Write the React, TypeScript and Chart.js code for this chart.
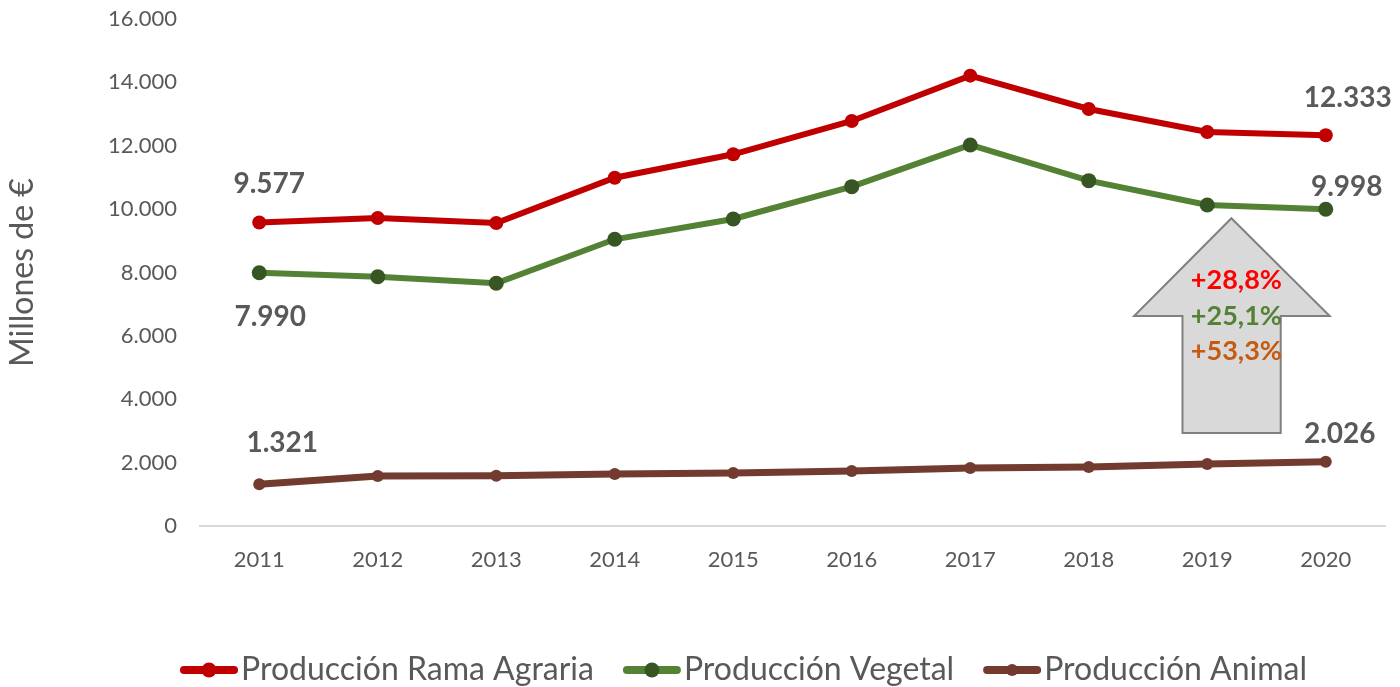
import React, { useEffect, useRef } from 'react';
import { Chart, registerables } from 'chart.js';

Chart.register(...registerables);

const years = ['2011', '2012', '2013', '2014', '2015', '2016', '2017', '2018', '2019', '2020'];
const ramaAgraria = [9577, 9720, 9563, 10990, 11731, 12782, 14212, 13161, 12435, 12333];
const vegetal = [7990, 7868, 7659, 9048, 9689, 10709, 12024, 10898, 10131, 9998];
const animal = [1321, 1578, 1585, 1641, 1673, 1736, 1830, 1862, 1957, 2026];
const seriesNames = ['Producción Rama Agraria', 'Producción Vegetal', 'Producción Animal'];
const changeLabels = ['+28,8%', '+25,1%', '+53,3%'];
const yMin = 0;
const yMax = 16000;
const yStep = 2000;
const yTitle = 'Millones de €';

const lineColors = ['#c00000', '#548235', '#733a2f'];
const markerColors = ['#c00000', '#375623', '#733a2f'];
const changeColors = ['#ff0000', '#548235', '#c55a11'];
const FONT = 'Lato, "Open Sans", sans-serif';
const TEXT = '#595959';

// arrow annotation geometry (category index, value)
const arrowGeom = {
  tip: [8.204, 9711],
  headL: [7.383, 6627],
  headR: [9.033, 6627],
  shaftL: 7.791,
  shaftR: 8.62,
  bottom: 2935,
};
const changeTextPos = { x: 8.246, y: [7764, 6606, 5501] };

// data label offsets (px) for first / last points of each series
const firstOffsets = [[10, -39], [11, 44], [23, -41]];
const lastOffsets = [[22, -37], [21, -22], [14, -28]];

function fmt(n: number): string {
  const s = Math.round(n).toString();
  return s.replace(/\B(?=(\d{3})+(?!\d))/g, '.');
}

export default function App() {
  const ref = useRef<HTMLCanvasElement | null>(null);

  useEffect(() => {
    document.body.style.margin = '0';
    const canvas = ref.current;
    if (!canvas) return;
    const series = [ramaAgraria, vegetal, animal];
    const radii = [7, 7.5, 6];

    const annotations = {
      id: 'annotations',
      beforeDatasetsDraw(chart: any) {
        const { ctx, scales } = chart;
        const x = scales.x;
        const y = scales.y;
        const px = (i: number) => x.getPixelForValue(i);
        const py = (v: number) => y.getPixelForValue(v);
        ctx.save();
        ctx.beginPath();
        ctx.moveTo(px(arrowGeom.tip[0]), py(arrowGeom.tip[1]));
        ctx.lineTo(px(arrowGeom.headR[0]), py(arrowGeom.headR[1]));
        ctx.lineTo(px(arrowGeom.shaftR), py(arrowGeom.headR[1]));
        ctx.lineTo(px(arrowGeom.shaftR), py(arrowGeom.bottom));
        ctx.lineTo(px(arrowGeom.shaftL), py(arrowGeom.bottom));
        ctx.lineTo(px(arrowGeom.shaftL), py(arrowGeom.headL[1]));
        ctx.lineTo(px(arrowGeom.headL[0]), py(arrowGeom.headL[1]));
        ctx.closePath();
        ctx.fillStyle = '#d9d9d9';
        ctx.fill();
        ctx.strokeStyle = '#808080';
        ctx.lineWidth = 2;
        ctx.stroke();
        ctx.font = `bold 27px ${FONT}`;
        ctx.textAlign = 'center';
        ctx.textBaseline = 'middle';
        changeLabels.forEach((t, i) => {
          ctx.fillStyle = changeColors[i];
          ctx.fillText(t, px(changeTextPos.x), py(changeTextPos.y[i]));
        });
        ctx.restore();
      },
      afterDatasetsDraw(chart: any) {
        const { ctx, scales } = chart;
        const x = scales.x;
        const y = scales.y;
        ctx.save();
        ctx.font = `bold 28px ${FONT}`;
        ctx.fillStyle = TEXT;
        ctx.textAlign = 'center';
        ctx.textBaseline = 'middle';
        series.forEach((d, s) => {
          const last = d.length - 1;
          ctx.fillText(fmt(d[0]), x.getPixelForValue(0) + firstOffsets[s][0], y.getPixelForValue(d[0]) + firstOffsets[s][1]);
          ctx.fillText(fmt(d[last]), x.getPixelForValue(last) + lastOffsets[s][0], y.getPixelForValue(d[last]) + lastOffsets[s][1]);
        });
        ctx.restore();
      },
      afterDraw(chart: any) {
        const { ctx } = chart;
        ctx.save();
        ctx.font = `32px ${FONT}`;
        ctx.textBaseline = 'middle';
        ctx.textAlign = 'left';
        const markW = 58;
        const gapT = 3;
        const gapItem = 29;
        const widths = seriesNames.map((n) => ctx.measureText(n).width);
        const total = widths.reduce((a, b) => a + b, 0) + 3 * (markW + gapT) + 2 * gapItem;
        let cx = 743.5 - total / 2;
        const cy = 670;
        seriesNames.forEach((n, i) => {
          ctx.strokeStyle = lineColors[i];
          ctx.lineWidth = 8;
          ctx.lineCap = 'round';
          ctx.beginPath();
          ctx.moveTo(cx + 4, cy);
          ctx.lineTo(cx + markW - 4, cy);
          ctx.stroke();
          ctx.fillStyle = markerColors[i];
          ctx.beginPath();
          ctx.arc(cx + markW / 2, cy, i === 2 ? 6 : 7.5, 0, Math.PI * 2);
          ctx.fill();
          ctx.fillStyle = TEXT;
          ctx.fillText(n, cx + markW + gapT, cy);
          cx += markW + gapT + widths[i] + gapItem;
        });
        ctx.restore();
      },
    };

    const chart = new Chart(canvas, {
      type: 'line',
      data: {
        labels: years,
        datasets: series.map((d, i) => ({
          label: seriesNames[i],
          data: d,
          borderColor: lineColors[i],
          backgroundColor: markerColors[i],
          pointBackgroundColor: markerColors[i],
          pointBorderColor: markerColors[i],
          pointBorderWidth: 0,
          pointRadius: radii[i],
          borderWidth: i === 2 ? 7 : 6,
          tension: 0,
          fill: false,
        })),
      },
      options: {
        animation: false,
        responsive: false,
        devicePixelRatio: 1,
        layout: { padding: { top: 19, right: 15, bottom: 0, left: 0 } },
        plugins: {
          legend: { display: false },
          tooltip: { enabled: false },
        },
        scales: {
          x: {
            offset: true,
            grid: { display: false, drawTicks: false },
            border: { display: true, color: '#d9d9d9', width: 2 },
            ticks: { color: TEXT, font: { family: FONT, size: 22 }, padding: 21 },
            afterFit: (s: any) => { s.height = 161; },
          },
          y: {
            min: yMin,
            max: yMax,
            grid: { display: false, drawTicks: true, tickLength: 23 },
            border: { display: false },
            ticks: {
              stepSize: yStep,
              color: TEXT,
              font: { family: FONT, size: 22 },
              padding: 0,
              callback: (v: any) => fmt(Number(v)),
            },
            title: {
              display: true,
              text: yTitle,
              color: TEXT,
              font: { family: FONT, size: 32, weight: 'normal' },
              padding: { top: 3, bottom: 0 },
            },
            afterFit: (s: any) => { s.width = 200; },
          },
        },
      },
      plugins: [annotations],
    });
    return () => chart.destroy();
  }, []);

  return (
    <div style={{ width: 1400, height: 687 }}>
      <canvas ref={ref} width={1400} height={687} style={{ display: 'block', width: 1400, height: 687 }} />
    </div>
  );
}
